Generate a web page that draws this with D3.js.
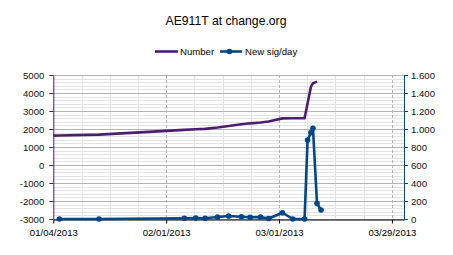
<!DOCTYPE html>
<html>
<head>
<meta charset="utf-8">
<script src="https://cdn.jsdelivr.net/npm/d3@7"></script>
<style>
  body { margin: 0; background: #fff; }
  svg { font-family: "Liberation Sans", Arial, sans-serif; }
</style>
</head>
<body>
<svg id="chart" width="453" height="255"></svg>
<script>
// Data
const numberDates = ['2013-01-04T00', '2013-01-05T12', '2013-01-15T08', '2013-02-05T12', '2013-02-08T08',
  '2013-02-10T16', '2013-02-13T18', '2013-02-16T12', '2013-02-19T16', '2013-02-21T20', '2013-02-24T10',
  '2013-02-26T10', '2013-03-01T20', '2013-03-04T10', '2013-03-07T08', '2013-03-08T22', '2013-03-09T10',
  '2013-03-10T10'];
const numberValues = [1630, 1640, 1690, 1950, 1985, 2005, 2080, 2165, 2260, 2315, 2360, 2415, 2590, 2595,
  2600, 4350, 4540, 4630];

const sigDates = ['2013-01-05T12', '2013-01-15T08', '2013-02-05T12', '2013-02-08T08', '2013-02-10T16',
  '2013-02-13T18', '2013-02-16T12', '2013-02-19T16', '2013-02-21T20', '2013-02-24T10', '2013-02-26T10',
  '2013-03-01T20', '2013-03-04T10', '2013-03-07T08', '2013-03-08T02', '2013-03-08T22', '2013-03-09T10',
  '2013-03-10T10', '2013-03-11T10'];
const sigValues = [0, 0, 8, 10, 8, 22, 33, 25, 20, 22, 5, 70, 0, 0, 878, 960, 1008, 174, 100];

const xDomain = ['2013-01-04T00', '2013-04-01T00'];
const xTicks = ['2013-01-04T00', '2013-02-01T00', '2013-03-01T00', '2013-03-29T00'];
const leftTicks = [-3000, -2000, -1000, 0, 1000, 2000, 3000, 4000, 5000];
const rightTicks = [0, 200, 400, 600, 800, 1000, 1200, 1400, 1600];

const title = 'AE911T at change.org';
const seriesNames = ['Number', 'New sig/day'];

const purple = '#4b1f6f';
const blue = '#004586';

const parse = d3.utcParse('%Y-%m-%dT%H');
const locale = d3.formatLocale({decimal: ',', thousands: '.', grouping: [3], currency: ['', ''], minus: '-'});

const svg = d3.select('#chart');

// Plot area
const plot = {left: 53.3, right: 404, top: 75, bottom: 219};

const x = d3.scaleUtc()
  .domain(xDomain.map(parse))
  .range([plot.left, plot.right]);

const yLeft = d3.scaleLinear()
  .domain([-3000, 5000])
  .range([plot.bottom, plot.top]);

const yRight = d3.scaleLinear()
  .domain([0, 1600])
  .range([plot.bottom, plot.top]);

// Minor horizontal grid
const grid = svg.append('g');
grid.selectAll('.hminor')
  .data(d3.range(-3000, 5001, 200).filter(v => v % 1000 !== 0))
  .join('line')
    .attr('x1', plot.left).attr('x2', plot.right)
    .attr('y1', d => Math.round(yLeft(d)) + 0.5).attr('y2', d => Math.round(yLeft(d)) + 0.5)
    .attr('stroke', '#e3e3e3');

// Minor vertical grid (weekly)
const start = parse(xDomain[0]);
const end = parse(xDomain[1]);
grid.selectAll('.vminor')
  .data(d3.utcDay.range(start, end, 7).filter((d, i) => i % 4 !== 0))
  .join('line')
    .attr('x1', d => Math.round(x(d)) + 0.5).attr('x2', d => Math.round(x(d)) + 0.5)
    .attr('y1', plot.top).attr('y2', plot.bottom)
    .attr('stroke', '#e3e3e3');

// Major horizontal grid
grid.selectAll('.hmajor')
  .data(leftTicks)
  .join('line')
    .attr('x1', plot.left).attr('x2', plot.right)
    .attr('y1', d => Math.round(yLeft(d)) + 0.5).attr('y2', d => Math.round(yLeft(d)) + 0.5)
    .attr('stroke', '#b3b3b3');

// Major vertical grid (dashed)
grid.selectAll('.vmajor')
  .data(xTicks.slice(1).map(parse))
  .join('line')
    .attr('x1', d => Math.round(x(d)) + 0.5).attr('x2', d => Math.round(x(d)) + 0.5)
    .attr('y1', plot.top).attr('y2', plot.bottom)
    .attr('stroke', '#b3b3b3')
    .attr('stroke-dasharray', '3,2');

// Axes
const xAxis = d3.axisBottom(x)
  .tickValues(xTicks.map(parse))
  .tickFormat(d3.utcFormat('%m/%d/%Y'))
  .tickSize(4)
  .tickSizeOuter(0)
  .tickPadding(6);

const leftAxis = d3.axisLeft(yLeft)
  .tickValues(leftTicks)
  .tickFormat(locale.format('d'))
  .tickSize(4)
  .tickSizeOuter(0)
  .tickPadding(5);

const rightAxis = d3.axisRight(yRight)
  .tickValues(rightTicks)
  .tickFormat(locale.format(',d'))
  .tickSize(4)
  .tickSizeOuter(0)
  .tickPadding(3);

const gx = svg.append('g')
  .attr('transform', `translate(0,${plot.bottom + 0.5})`)
  .call(xAxis);
gx.select('.domain').attr('stroke', '#000');
gx.selectAll('.tick line').attr('stroke', '#000');
gx.selectAll('text').attr('font-size', '9.6px').attr('fill', '#000').attr('font-family', 'Liberation Sans, Arial, sans-serif');

const gl = svg.append('g')
  .attr('transform', `translate(${plot.left},0)`)
  .call(leftAxis);
gl.select('.domain').attr('stroke', purple);
gl.selectAll('.tick line').attr('stroke', purple);
gl.selectAll('text').attr('font-size', '9.6px').attr('fill', '#111').attr('font-family', 'Liberation Sans, Arial, sans-serif');

const gr = svg.append('g')
  .attr('transform', `translate(${plot.right},0)`)
  .call(rightAxis);
gr.select('.domain').attr('stroke', blue);
gr.selectAll('.tick line').attr('stroke', blue);
gr.selectAll('text').attr('font-size', '9.6px').attr('fill', '#111').attr('font-family', 'Liberation Sans, Arial, sans-serif');

// Series
const numberData = numberDates.map((d, i) => ({date: parse(d), value: numberValues[i]}));
const sigData = sigDates.map((d, i) => ({date: parse(d), value: sigValues[i]}));

svg.append('path')
  .attr('d', d3.line().x(d => x(d.date)).y(d => yLeft(d.value))(numberData))
  .attr('fill', 'none')
  .attr('stroke', purple)
  .attr('stroke-width', 2.6);

svg.append('path')
  .attr('d', d3.line().x(d => x(d.date)).y(d => yRight(d.value))(sigData))
  .attr('fill', 'none')
  .attr('stroke', blue)
  .attr('stroke-width', 2.6);

svg.selectAll('.marker')
  .data(sigData)
  .join('circle')
    .attr('cx', d => x(d.date))
    .attr('cy', d => yRight(d.value))
    .attr('r', 2.8)
    .attr('fill', blue);

// Title
svg.append('text')
  .attr('x', 226)
  .attr('y', 25)
  .attr('text-anchor', 'middle')
  .attr('font-size', '12.2px')
  .attr('fill', '#000')
  .text(title);

// Legend
const legend = svg.append('g').attr('font-size', '9.6px');
legend.append('line')
  .attr('x1', 155).attr('x2', 178).attr('y1', 51.5).attr('y2', 51.5)
  .attr('stroke', purple).attr('stroke-width', 2.6);
legend.append('text')
  .attr('x', 180).attr('y', 55)
  .text(seriesNames[0]);
legend.append('line')
  .attr('x1', 220).attr('x2', 242).attr('y1', 51.5).attr('y2', 51.5)
  .attr('stroke', blue).attr('stroke-width', 2.6);
legend.append('circle')
  .attr('cx', 229.5).attr('cy', 51.5).attr('r', 2.8)
  .attr('fill', blue);
legend.append('text')
  .attr('x', 245).attr('y', 55)
  .text(seriesNames[1]);
</script>
</body>
</html>
